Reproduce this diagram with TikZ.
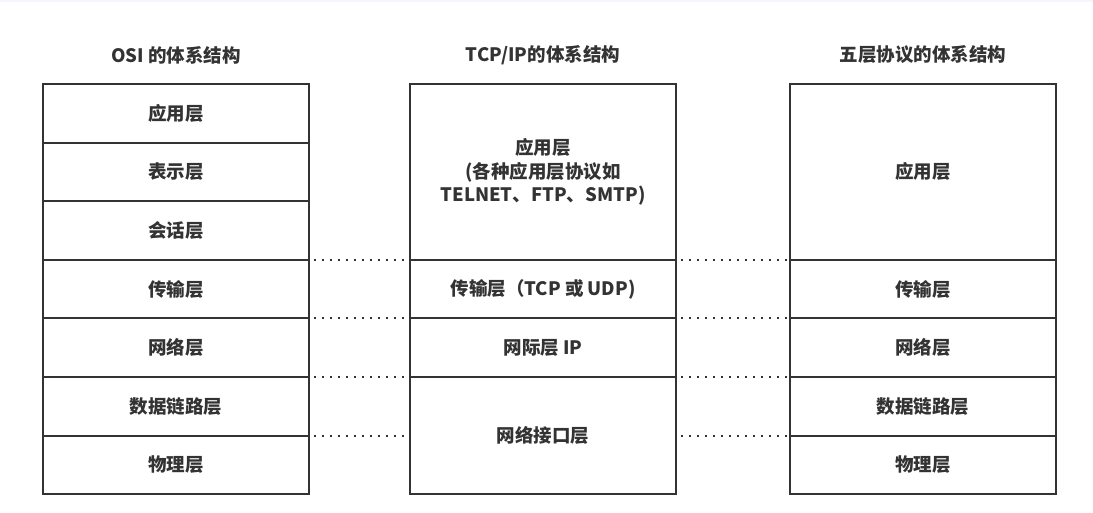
\documentclass[tikz,border=0pt]{standalone}
\usepackage{fontspec}
\setmainfont{Noto Sans CJK SC}
\usetikzlibrary{positioning}
\definecolor{ink}{HTML}{333333}

\tikzset{
  layer/.style={draw=ink, line width=2pt, minimum width=266pt,
    minimum height=#1*58.6pt, inner sep=0pt, outer sep=0pt,
    align=center, text=ink, font=\bfseries\fontsize{18.5}{23.5}\selectfont},
  layer/.default=1,
  heading/.style={text=ink, font=\bfseries\fontsize{18.5}{22}\selectfont},
  gap/.style={ink, line width=2pt, dash pattern=on 2pt off 6pt, shorten <=5pt}
}

\begin{document}
\begin{tikzpicture}[x=1pt, y=-1pt]
\useasboundingbox (0,0) rectangle (1093,512);
\fill[blue!4] (0,0) rectangle (1093,2);

% headings
\node[heading] (hosi) at (176,55) {OSI 的体系结构};
\node[heading] (htcp) at (543,55) {TCP/IP的体系结构};
\node[heading] (hfive) at (923,55) {五层协议的体系结构};

% OSI
\node[layer, anchor=north] (osi1) at (176,84) {应用层};
\node[layer, below=0pt of osi1] (osi2) {表示层};
\node[layer, below=0pt of osi2] (osi3) {会话层};
\node[layer, below=0pt of osi3] (osi4) {传输层};
\node[layer, below=0pt of osi4] (osi5) {网络层};
\node[layer, below=0pt of osi5] (osi6) {数据链路层};
\node[layer, below=0pt of osi6] (osi7) {物理层};

% TCP/IP
\node[layer=3, anchor=north] (tcp1) at (543,84)
  {应用层\\(各种应用层协议如\\TELNET、FTP、SMTP)};
\node[layer, below=0pt of tcp1] (tcp2) {传输层（TCP 或 UDP)};
\node[layer, below=0pt of tcp2] (tcp3) {网际层 IP};
\node[layer=2, below=0pt of tcp3] (tcp4) {网络接口层};

% five layers
\node[layer=3, anchor=north] (five1) at (923,84) {应用层};
\node[layer, below=0pt of five1] (five2) {传输层};
\node[layer, below=0pt of five2] (five3) {网络层};
\node[layer, below=0pt of five3] (five4) {数据链路层};
\node[layer, below=0pt of five4] (five5) {物理层};

% dotted links
\draw[gap] (osi3.south east) -- (tcp1.south west);
\draw[gap] (osi4.south east) -- (tcp2.south west);
\draw[gap] (osi5.south east) -- (tcp3.south west);
\draw[gap] (osi6.south east) -- (tcp4.west);
\draw[gap] (tcp1.south east) -- (five1.south west);
\draw[gap] (tcp2.south east) -- (five2.south west);
\draw[gap] (tcp3.south east) -- (five3.south west);
\draw[gap] (tcp4.east) -- (five4.south west);
\end{tikzpicture}
\end{document}
